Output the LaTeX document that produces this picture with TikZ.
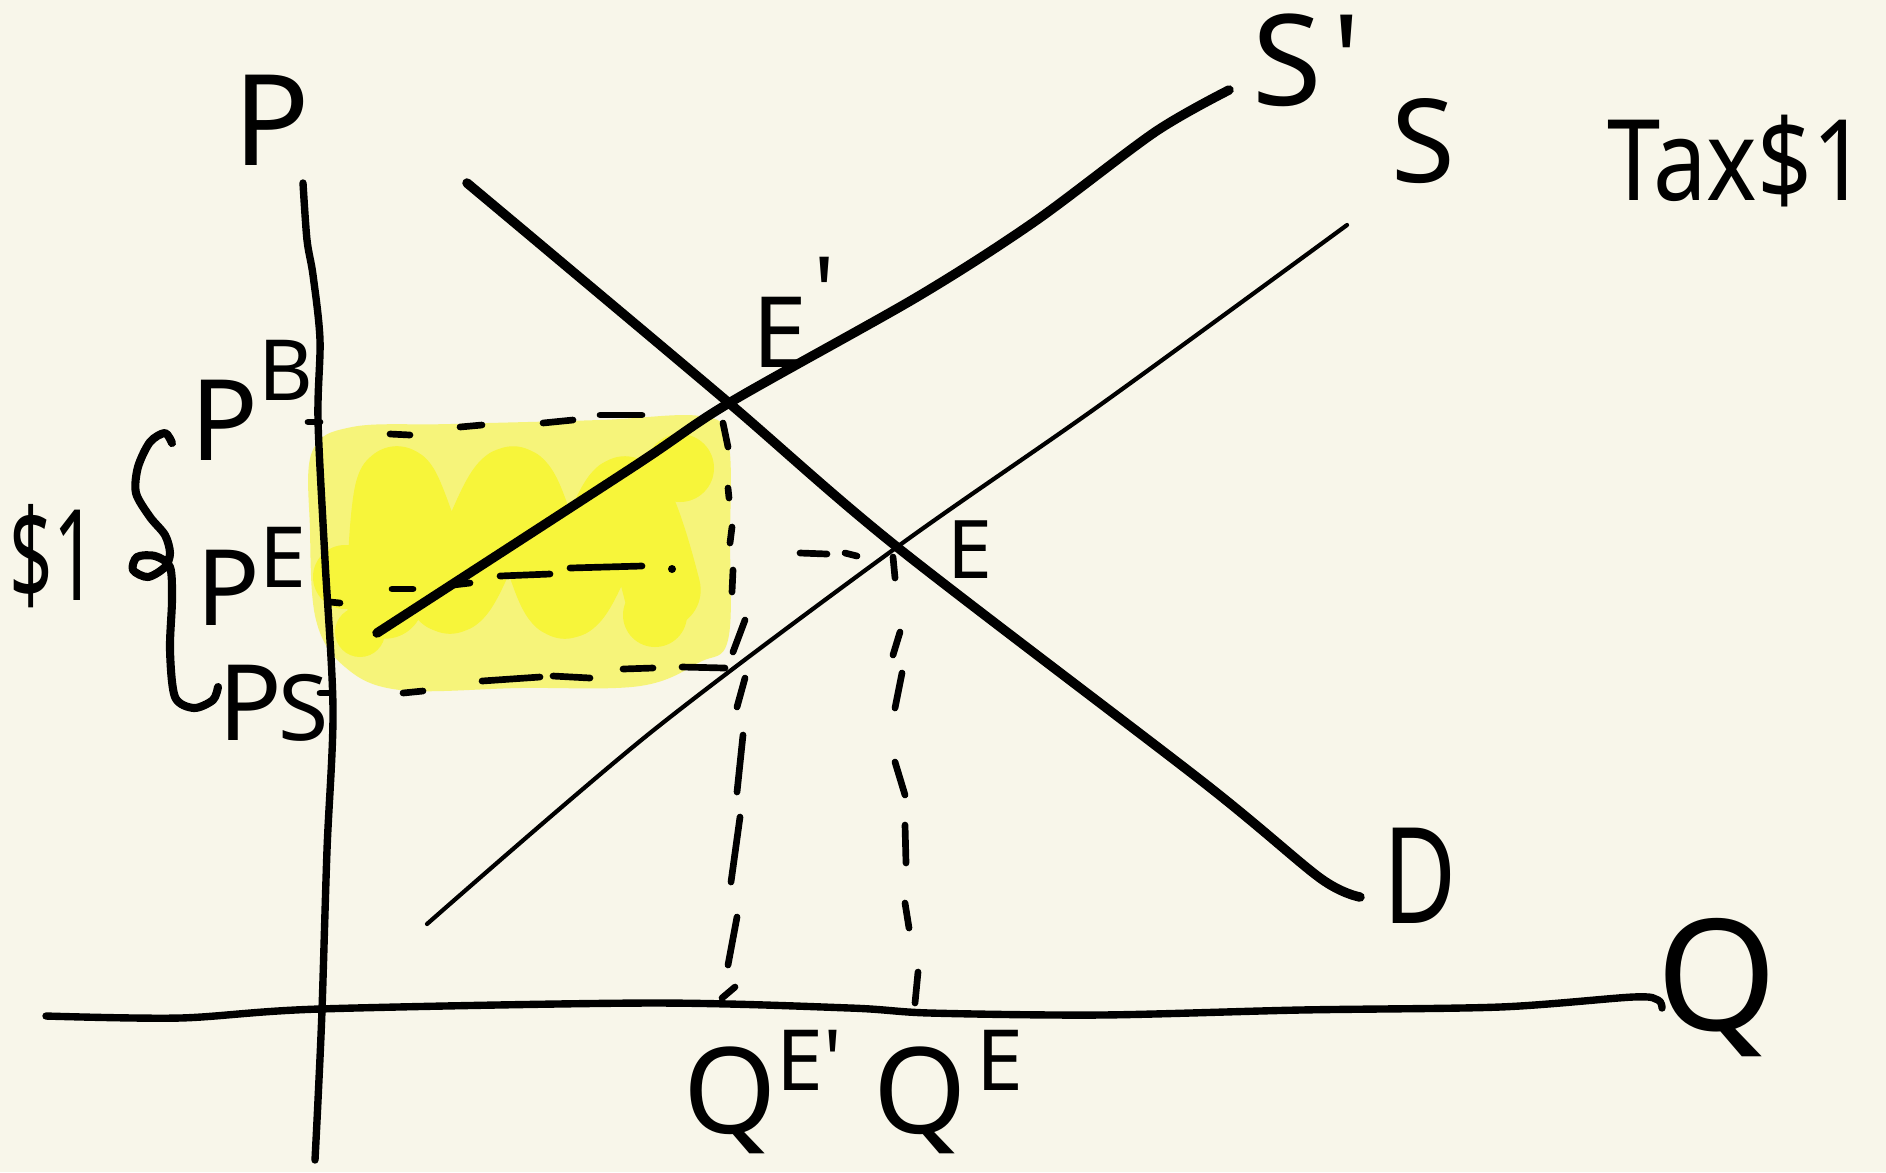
\documentclass[tikz,border=0pt]{standalone}
\usepackage{fontspec}
\usepackage{graphicx}
\setmainfont{Noto Sans}
\definecolor{paper}{RGB}{248,246,234}
\definecolor{hlLight}{RGB}{246,244,122}
\definecolor{hlBright}{RGB}{247,245,58}
\newcommand{\lblsize}[1]{\fontsize{#1}{#1}\selectfont}
\begin{document}
\begin{tikzpicture}[x=0.01cm,y=-0.01cm,
  ink/.style={line cap=round,line join=round,black},
  heavyink/.style={ink,line width=2.7pt},
  lightink/.style={ink,line width=1.2pt},
  axisline/.style={ink,line width=2.1pt},
  dsh/.style={ink,line width=1.9pt},
  lbl/.style={inner sep=0pt,outer sep=0pt,text=black}]

\fill[paper] (0,0) rectangle (1886,1172);
\useasboundingbox (0,0) rectangle (1886,1172);

% equilibrium points
\coordinate (Ep) at (729,403);
\coordinate (Eq) at (897,547);

% highlighted tax revenue area
\fill[hlLight] plot[smooth cycle, tension=0.6] coordinates {(312,452) (352,427) (450,424) (600,420) (700,416) (728,440) (730,540) (728,640) (700,662) (640,686) (520,688) (400,690) (345,667) (316,620) (310,530)};
\draw[hlBright, line width=22pt, line cap=round, line join=round] plot[smooth, tension=0.5] coordinates {(385,600) (397,485) (450,595) (513,485) (565,600) (625,495) (662,590)};
\fill[hlBright] (345,577) circle (32);
\fill[hlBright] (360,632) circle (25);
\fill[hlBright] (680,468) circle (34);
\fill[hlBright] (655,615) circle (32);

% axes
\draw[axisline] plot[smooth] coordinates {(303,183) (307,240) (313,275) (320,340) (318,420) (325,560) (333,710) (327,850) (322,1010) (318,1100) (315,1160)};
\draw[axisline] plot[smooth] coordinates {(46,1016) (180,1018) (319,1009) (650,1003) (850,1008) (930,1013) (1100,1015) (1300,1010) (1500,1007) (1633,997) (1658,1000) (1662,1008)};

% curves
\draw[heavyink] plot[smooth, tension=0.5] coordinates {(467,183) (547,250) (Ep) (Eq) (1203,782) (1320,878) (1360,897)};
\draw[lightink] plot[smooth, tension=0.5] coordinates {(427,924) (650,733) (Eq) (1100,405) (1347,225)};
\draw[heavyink] plot[smooth, tension=0.5] coordinates {(377,633) (633,467) (Ep) (917,297) (1034,222) (1155,132) (1229,90)};

% ticks on P axis
\draw[dsh] (308,422) -- (320,422);
\draw[dsh] (330,602) -- (340,603);
\draw[dsh] (320,693) -- (330,693);

% dashed price lines
\foreach \a/\b/\c/\d in {390/434/410/435, 460/427/482/425, 543/423/573/420, 600/415/642/415}
  \draw[dsh] (\a,\b) -- (\c,\d);
\foreach \a/\b/\c/\d in {392/589/413/589, 453/585/470/583, 500/576/550/574, 570/568/642/566, 800/553/827/554, 845/553/857/556}
  \draw[dsh] (\a,\b) -- (\c,\d);
\fill (672,569) circle (4);
\foreach \a/\b/\c/\d in {403/693/423/691, 482/681/540/677, 553/676/590/678, 623/669/653/668, 682/667/725/668}
  \draw[dsh] (\a,\b) -- (\c,\d);

% dashed quantity lines
\foreach \a/\b/\c/\d in {723/423/728/447, 728/488/729/498, 732/527/730/543, 733/570/732/592, 745/620/733/652, 745/678/737/707, 743/735/737/792, 740/817/731/882, 737/917/728/965, 735/987/722/998}
  \draw[dsh] (\a,\b) -- (\c,\d);
\foreach \a/\b/\c/\d in {893/557/895/578, 900/632/893/655, 902/673/895/708, 895/762/905/795, 905/825/906/863, 905/903/909/928, 918/972/915/1003}
  \draw[dsh] (\a,\b) -- (\c,\d);

% brace
\draw[ink,line width=2.3pt] plot[smooth] coordinates {(172,443) (165,433) (150,442) (138,467) (136,493) (150,517) (165,535) (170,553) (165,567) (148,577) (133,570) (137,557) (155,556) (170,567) (172,600) (170,650) (175,697) (194,708) (213,700) (218,687)};

% labels
\node[lbl,anchor=base,font={\lblsize{36}}] (plab) at (272,165) {P};
\node[lbl,anchor=base west,font={\lblsize{36}}] (splab) at (1252,105) {S\kern3pt\textquotesingle};
\node[lbl,anchor=base,font={\lblsize{33}}] (slab) at (1423,182) {S};
\node[lbl,anchor=base,font={\lblsize{32}}] (taxlab) at (1737,200) {\scalebox{0.85}[1]{Tax\$1}};
\node[lbl,anchor=base west,font={\lblsize{28}}] (eplab) at (752,367) {E\kern2pt\raisebox{0.4em}{\textquotesingle}};
\node[lbl,anchor=base,font={\lblsize{23}}] (elab) at (970,578) {E};
\node[lbl,anchor=base,font={\lblsize{38}}] (dlab) at (1420,923) {\scalebox{0.75}[1]{D}};
\node[lbl,anchor=base,font={\lblsize{44}}] (qlab) at (1717,1030) {Q};
\node[lbl,anchor=base west] (qeplab) at (683,1133) {\lblsize{34}Q\raisebox{12pt}{\lblsize{24}E\textquotesingle}};
\node[lbl,anchor=base west] (qelab) at (873,1133) {\lblsize{34}Q\kern3pt\raisebox{12pt}{\lblsize{24}E}};
\node[lbl,anchor=base west] (pblab) at (190,460) {\lblsize{32}P\raisebox{16.8pt}{\lblsize{24}B}};
\node[lbl,anchor=base west] (pelab) at (196,625) {\lblsize{30}P\raisebox{10.8pt}{\lblsize{24}E}};
\node[lbl,anchor=base west] (pslab) at (218,740) {\lblsize{30}P\kern-1pt{\lblsize{26}S}};
\node[lbl,anchor=base,font={\lblsize{36}}] (dollarlab) at (53,600) {\scalebox{0.6}[1]{\$1}};
\end{tikzpicture}
\end{document}
